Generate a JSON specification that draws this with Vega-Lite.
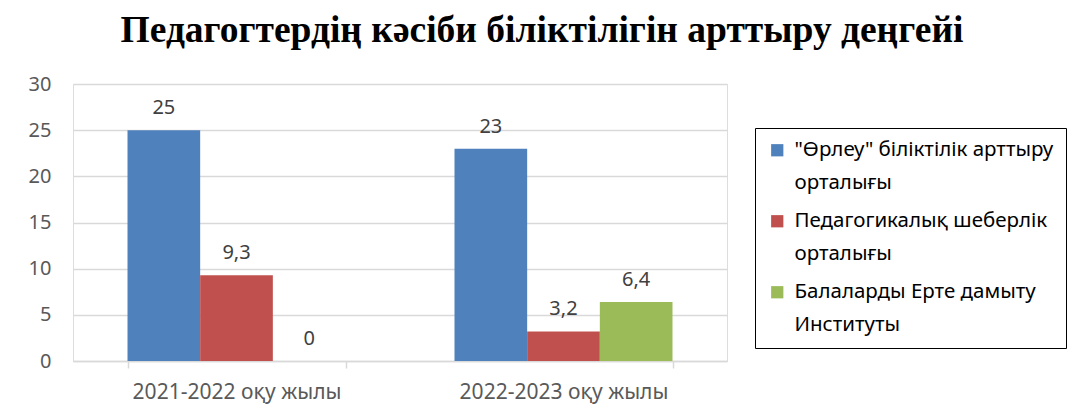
{
  "$schema": "https://vega.github.io/schema/vega-lite/v6.json",
  "width": 654,
  "height": 277,
  "autosize": "none",
  "padding": {"left": 73, "top": 84, "right": 347, "bottom": 53},
  "background": "white",
  "title": {
    "text": "Педагогтердің кәсіби біліктілігін арттыру деңгейі",
    "font": "Liberation Serif",
    "fontWeight": "bold",
    "fontSize": 37.5,
    "color": "#000000",
    "anchor": "middle",
    "frame": "group",
    "dx": 142,
    "baseline": "alphabetic",
    "offset": -5
  },
  "data": {
    "values": [
      {"year": "2021-2022 оқу жылы", "series": "\"Өрлеу\" біліктілік арттыру орталығы", "value": 25, "label": "25"},
      {"year": "2021-2022 оқу жылы", "series": "Педагогикалық шеберлік орталығы", "value": 9.3, "label": "9,3"},
      {"year": "2021-2022 оқу жылы", "series": "Балаларды Ерте дамыту Институты", "value": 0, "label": "0"},
      {"year": "2022-2023 оқу жылы", "series": "\"Өрлеу\" біліктілік арттыру орталығы", "value": 23, "label": "23"},
      {"year": "2022-2023 оқу жылы", "series": "Педагогикалық шеберлік орталығы", "value": 3.2, "label": "3,2"},
      {"year": "2022-2023 оқу жылы", "series": "Балаларды Ерте дамыту Институты", "value": 6.4, "label": "6,4"}
    ]
  },
  "encoding": {
    "x": {
      "field": "year", "type": "nominal", "sort": null,
      "scale": {"paddingInner": 0.3333, "paddingOuter": 0.16667},
      "axis": {
        "title": null, "labelAngle": 0, "labelFont": "Noto Sans", "labelFontSize": 21, "labelLimit": 400,
        "labelColor": "#595959", "labelPadding": 13, "domainColor": "#d9d9d9", "domainWidth": 1.5,
        "tickColor": "#d9d9d9", "tickWidth": 1.5, "tickSize": 7, "tickBand": "extent", "grid": false
      }
    },
    "xOffset": {
      "field": "series", "type": "nominal", "sort": null,
      "scale": {"paddingInner": 0, "paddingOuter": 0}
    },
    "y": {
      "field": "value", "type": "quantitative",
      "scale": {"domain": [0, 30]},
      "axis": {
        "title": null, "values": [0, 5, 10, 15, 20, 25, 30], "labelFont": "Noto Sans", "labelFontSize": 20,
        "labelColor": "#595959", "labelPadding": 22, "domain": false, "ticks": false,
        "gridColor": "#d9d9d9", "gridWidth": 1.5
      }
    }
  },
  "layer": [
    {
      "mark": {"type": "bar"},
      "encoding": {
        "color": {
          "field": "series", "type": "nominal", "sort": null,
          "scale": {"range": ["#4F81BD", "#C0504D", "#9BBB59"]},
          "legend": {
            "title": null, "orient": "none", "legendX": 682, "legendY": 44,
            "strokeColor": "#000000", "padding": 12, "symbolType": "square", "symbolSize": 150,
            "symbolStrokeWidth": 0, "labelFont": "Noto Sans", "labelFontSize": 20.5, "labelColor": "#000000",
            "labelOffset": 7, "rowPadding": 17, "labelLimit": 400,
            "labelExpr": "datum.label == '\"Өрлеу\" біліктілік арттыру орталығы' ? ['\"Өрлеу\" біліктілік арттыру', 'орталығы'] : datum.label == 'Педагогикалық шеберлік орталығы' ? ['Педагогикалық шеберлік', 'орталығы'] : ['Балаларды Ерте дамыту', 'Институты']",
            "encode": {"labels": {"update": {"lineHeight": {"value": 33}}}}
          }
        }
      }
    },
    {
      "mark": {"type": "text", "baseline": "bottom", "dy": -12, "font": "Noto Sans", "fontSize": 20, "color": "#404040"},
      "encoding": {"text": {"field": "label"}}
    }
  ]
}
